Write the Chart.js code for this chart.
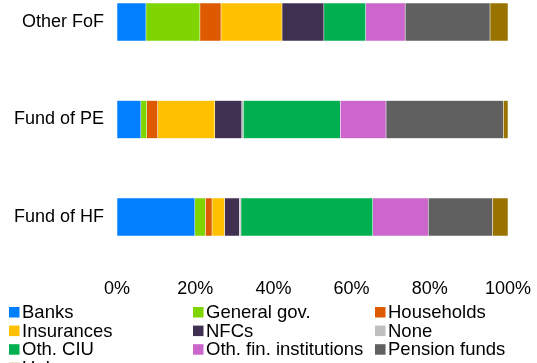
<!DOCTYPE html>
<html>
<head>
<meta charset="utf-8">
<script src="https://cdn.jsdelivr.net/npm/chart.js@4"></script>
<style>
  html, body { margin: 0; padding: 0; background: #fff; overflow: hidden; }
  #wrap { width: 537px; height: 380px; }
</style>
</head>
<body>
<div id="wrap"><canvas id="investorChart"></canvas></div>
<script>
// Categories (top to bottom)
const categories = ["Other FoF", "Fund of PE", "Fund of HF"];

// Share of holdings by investor sector, in %
const banks      = [7.4, 6.1, 19.9];
const generalGov = [13.8, 1.5, 2.7];
const households = [5.4, 2.8, 1.7];
const insurances = [15.6, 14.6, 3.2];
const nfcs       = [10.7, 6.9, 3.8];
const none       = [0, 0.4, 0.4];
const othCiu     = [10.7, 24.8, 33.7];
const othFin     = [10.1, 11.7, 14.2];
const pension    = [21.7, 30.0, 16.4];
const unknown    = [4.6, 1.2, 4.0];

const xTicks = [0, 20, 40, 60, 80, 100];

const series = [
    { label: "Banks", data: banks, color: "#0080FF" },
    { label: "General gov.", data: generalGov, color: "#7ED500" },
    { label: "Households", data: households, color: "#DD5A00" },
    { label: "Insurances", data: insurances, color: "#FFC000" },
    { label: "NFCs", data: nfcs, color: "#403152" },
    { label: "None", data: none, color: "#BFBFBF" },
    { label: "Oth. CIU", data: othCiu, color: "#00B050" },
    { label: "Oth. fin. institutions", data: othFin, color: "#CC66CC" },
    { label: "Pension funds", data: pension, color: "#606060" },
    { label: "Unknown", data: unknown, color: "#997300" }
];

const FONT = "Liberation Sans, Arial, sans-serif";

// Legend in a 3-column grid below the axis
const gridLegend = {
    id: "gridLegend",
    afterDraw(chart) {
        const ctx = chart.ctx;
        const colX = [9, 193, 375];
        const rowY = 312;
        const rowH = 18.6;
        ctx.save();
        ctx.font = "18.5px " + FONT;
        ctx.textBaseline = "middle";
        chart.data.datasets.forEach((ds, i) => {
            const x = colX[i % 3];
            const y = rowY + Math.floor(i / 3) * rowH;
            ctx.fillStyle = ds.backgroundColor;
            ctx.fillRect(x, y - 5, 10.5, 10.5);
            ctx.fillStyle = "#000";
            ctx.fillText(ds.label, x + 13, y + 1);
        });
        ctx.restore();
    }
};

new Chart(document.getElementById("investorChart"), {
    type: "bar",
    data: {
        labels: categories,
        datasets: series.map(s => ({
            label: s.label,
            data: s.data,
            backgroundColor: s.color,
            borderColor: "rgba(255,255,255,0.35)",
            borderWidth: 0.6,
            borderSkipped: false,
            barThickness: 38,
            clip: false
        }))
    },
    options: {
        indexAxis: "y",
        responsive: true,
        maintainAspectRatio: false,
        animation: false,
        layout: { padding: { top: 22, right: 29, bottom: 79, left: 0 } },
        plugins: {
            legend: { display: false },
            tooltip: { enabled: false }
        },
        scales: {
            x: {
                stacked: true,
                min: 0,
                max: 100,
                grid: { display: false, drawTicks: false },
                border: { display: false },
                afterBuildTicks: (axis) => { axis.ticks = xTicks.map(v => ({ value: v })); },
                afterFit: (axis) => {
                    axis.height = 84;
                    axis.paddingLeft = 0;
                    axis.paddingRight = 0;
                },
                ticks: {
                    padding: 61,
                    color: "#000",
                    font: { family: FONT, size: 18 },
                    maxRotation: 0,
                    callback: (v) => v + "%"
                }
            },
            y: {
                stacked: true,
                offset: false,
                grid: { display: false, drawTicks: false },
                border: { display: false },
                afterFit: (axis) => {
                    axis.width = 117;
                    axis.paddingTop = 0;
                    axis.paddingBottom = 0;
                },
                ticks: {
                    padding: 13,
                    color: "#000",
                    font: { family: FONT, size: 18 }
                }
            }
        }
    },
    plugins: [gridLegend]
});
</script>
</body>
</html>
